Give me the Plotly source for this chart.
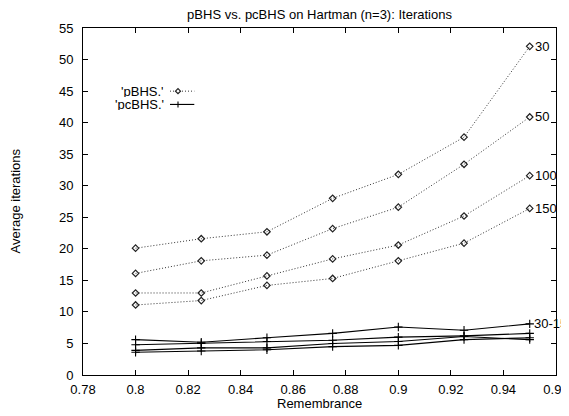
import plotly.graph_objects as go

remembrance = [0.8, 0.825, 0.85, 0.875, 0.9, 0.925, 0.95]

pbhs_labels = ["30", "50", "100", "150"]
pbhs_30 = [20.1, 21.6, 22.7, 28.0, 31.8, 37.7, 52.1]
pbhs_50 = [16.1, 18.1, 19.0, 23.2, 26.6, 33.4, 40.9]
pbhs_100 = [13.0, 13.0, 15.7, 18.4, 20.6, 25.2, 31.6]
pbhs_150 = [11.1, 11.8, 14.2, 15.3, 18.1, 20.9, 26.4]

pcbhs_label = "30-15"
pcbhs_a = [5.6, 5.2, 5.9, 6.6, 7.6, 7.1, 8.1]
pcbhs_b = [4.8, 5.0, 5.3, 5.5, 6.0, 6.2, 6.6]
pcbhs_c = [3.9, 4.3, 4.3, 5.0, 5.3, 6.1, 5.6]
pcbhs_d = [3.6, 3.8, 4.0, 4.5, 4.7, 5.6, 5.9]

x_ticks = [0.78, 0.8, 0.82, 0.84, 0.86, 0.88, 0.9, 0.92, 0.94, 0.96]
x_ticktext = ["0.78", "0.8", "0.82", "0.84", "0.86", "0.88", "0.9", "0.92", "0.94", "0.96"]
y_ticks = [0, 5, 10, 15, 20, 25, 30, 35, 40, 45, 50, 55]

FONT = "Liberation Sans, Arial, Helvetica, sans-serif"
FS = 13

# The page body has an 8px margin; size the figure to fill the rest of the window.
OFF = 8
W, H = 569 - OFF, 416 - OFF
# plot area in page pixels
PX0, PX1, PY0, PY1 = 83, 556, 27.7, 375.5
L, R = PX0 - OFF, W - (PX1 - OFF)
T, B = PY0 - OFF, H - (PY1 - OFF)
PW = PX1 - PX0
PH = PY1 - PY0


def px(xp):
    return (xp - PX0) / PW


def py(yp):
    return (PY1 - yp) / PH


fig = go.Figure()

DOT = "1px,2px"

for vals in [pbhs_30, pbhs_50, pbhs_100, pbhs_150]:
    fig.add_trace(go.Scatter(
        x=remembrance, y=vals, mode="lines+markers",
        line=dict(color="#333333", width=1, dash=DOT),
        marker=dict(symbol="diamond-open", size=5, color="#222222",
                    line=dict(width=1.2, color="#222222")),
        showlegend=False, hoverinfo="skip"))

for vals in [pcbhs_a, pcbhs_b, pcbhs_c, pcbhs_d]:
    fig.add_trace(go.Scatter(
        x=remembrance, y=vals, mode="lines+markers",
        line=dict(color="#000000", width=1.1),
        marker=dict(symbol="cross-thin-open", size=6, color="#000000",
                    line=dict(width=1.1, color="#000000")),
        showlegend=False, hoverinfo="skip"))

annotations = []
for lab, vals in zip(pbhs_labels, [pbhs_30, pbhs_50, pbhs_100, pbhs_150]):
    annotations.append(dict(x=remembrance[-1], y=vals[-1], xref="x", yref="y",
                            text=lab, showarrow=False, xanchor="left", yanchor="middle",
                            xshift=3, font=dict(family=FONT, size=FS, color="black")))
annotations.append(dict(x=remembrance[-1], y=pcbhs_a[-1], xref="x", yref="y",
                        text=pcbhs_label, showarrow=False, xanchor="left", yanchor="middle",
                        xshift=2, font=dict(family=FONT, size=FS, color="black")))

# axis titles
annotations.append(dict(x=0.5, y=py(404), xref="paper", yref="paper",
                        text="Remembrance", showarrow=False, xanchor="center", yanchor="middle",
                        font=dict(family=FONT, size=FS, color="black")))
annotations.append(dict(x=px(15), y=0.5, xref="paper", yref="paper",
                        text="Average iterations", showarrow=False, textangle=-90,
                        xanchor="center", yanchor="middle",
                        font=dict(family=FONT, size=FS, color="black")))

# Legend (gnuplot-style: text left of sample)
leg_text_x = px(166)
leg_line_x0, leg_line_x1 = px(170), px(194.3)
leg_mark_x = px(178)
leg_y = [py(91), py(104.3)]
leg_names = ["'pBHS.'", "'pcBHS.'"]
for name, yy in zip(leg_names, leg_y):
    annotations.append(dict(x=leg_text_x, y=yy, xref="paper", yref="paper", text=name,
                            showarrow=False, xanchor="right", yanchor="middle", height=12,
                            font=dict(family=FONT, size=FS, color="black")))

dx = 2.5 / PW
dy = 2.5 / PH
shapes = [
    dict(type="line", xref="paper", yref="paper", x0=leg_line_x0, x1=leg_line_x1,
         y0=leg_y[0], y1=leg_y[0], line=dict(color="#333333", width=1, dash=DOT)),
    dict(type="path", xref="paper", yref="paper",
         path=f"M {leg_mark_x - dx} {leg_y[0]} L {leg_mark_x} {leg_y[0] + dy} "
              f"L {leg_mark_x + dx} {leg_y[0]} L {leg_mark_x} {leg_y[0] - dy} Z",
         line=dict(color="#222222", width=1.2), fillcolor="white"),
    dict(type="line", xref="paper", yref="paper", x0=leg_line_x0, x1=leg_line_x1,
         y0=leg_y[1], y1=leg_y[1], line=dict(color="#000000", width=1.1)),
    dict(type="line", xref="paper", yref="paper", x0=leg_mark_x, x1=leg_mark_x,
         y0=leg_y[1] - dy * 1.2, y1=leg_y[1] + dy * 1.2, line=dict(color="#000000", width=1.1)),
]

fig.update_layout(
    width=W, height=H,
    margin=dict(l=L, r=R, t=T, b=B, autoexpand=False),
    paper_bgcolor="white", plot_bgcolor="white",
    font=dict(family=FONT, size=FS, color="black"),
    title=dict(text="pBHS vs. pcBHS on Hartman (n=3): Iterations",
               x=(L + PW / 2) / W, xanchor="center",
               y=1 - (14 - OFF) / H, yanchor="middle",
               font=dict(family=FONT, size=FS, color="black")),
    annotations=annotations,
    shapes=shapes,
)

fig.update_xaxes(
    range=[0.78, 0.96], tickvals=x_ticks, ticktext=x_ticktext,
    showgrid=False, zeroline=False, showline=True, linecolor="black", linewidth=1,
    mirror="ticks", ticks="inside", ticklen=5, tickcolor="black", tickwidth=1,
    tickfont=dict(family=FONT, size=FS, color="black"), automargin=False,
    ticklabelstandoff=2,
)
fig.update_yaxes(
    range=[0, 55], tickvals=y_ticks,
    showgrid=False, zeroline=False, showline=True, linecolor="black", linewidth=1,
    mirror="ticks", ticks="inside", ticklen=5, tickcolor="black", tickwidth=1,
    tickfont=dict(family=FONT, size=FS, color="black"), automargin=False,
    ticklabelstandoff=6,
)

fig.write_html("out.html")
